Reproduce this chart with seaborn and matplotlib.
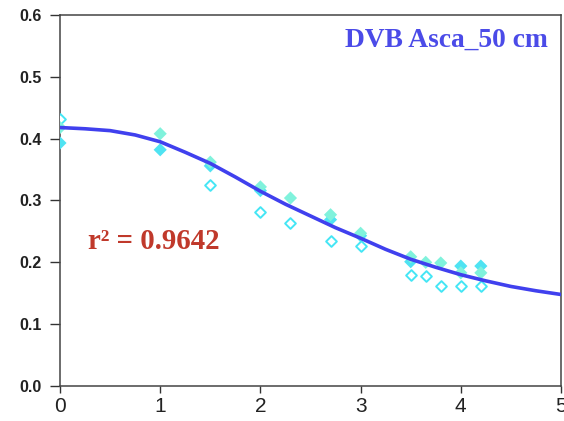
import matplotlib
matplotlib.use("Agg")
import matplotlib.pyplot as plt
import seaborn as sns
import numpy as np

# Data
x_light = [0, 1, 1.5, 2, 2.3, 2.7, 3, 3.5, 3.65, 3.8, 4, 4.2]
y_light = [0.418, 0.408, 0.362, 0.322, 0.304, 0.277, 0.247, 0.209, 0.200, 0.199, 0.183, 0.183]
x_cyan = [0, 1, 1.5, 2, 2.7, 3, 3.5, 4, 4.2]
y_cyan = [0.393, 0.382, 0.356, 0.316, 0.269, 0.243, 0.201, 0.194, 0.194]
x_hollow = [0, 1.5, 2, 2.3, 2.7, 3, 3.5, 3.65, 3.8, 4, 4.2]
y_hollow = [0.432, 0.325, 0.282, 0.264, 0.235, 0.227, 0.180, 0.178, 0.162, 0.162, 0.162]
x_fit = [0, 0.25, 0.5, 0.75, 1.0, 1.25, 1.5, 1.75, 2.0, 2.25, 2.5, 2.75, 3.0,
         3.25, 3.5, 3.75, 4.0, 4.25, 4.5, 4.75, 5.0]
y_fit = [0.418, 0.416, 0.413, 0.406, 0.395, 0.378, 0.360, 0.338, 0.315, 0.294,
         0.275, 0.256, 0.239, 0.221, 0.205, 0.192, 0.180, 0.170, 0.161, 0.154, 0.148]
x_ticks = [0, 1, 2, 3, 4, 5]
y_ticks = [0.0, 0.1, 0.2, 0.3, 0.4, 0.5, 0.6]
title_text = "DVB Asca_50 cm"
r2_text = "r² = 0.9642"

sns.set_theme(style="white")
plt.rcParams['font.family'] = ['Liberation Sans', 'DejaVu Sans']

fig = plt.figure(figsize=(5.64, 4.21), dpi=100)
ax = fig.add_axes([60/564, 1-386/421, 501/564, 371/421])

sns.scatterplot(x=x_hollow, y=y_hollow, marker='D', s=30, facecolor='white',
                edgecolor='#45E6F5', linewidth=1.4, ax=ax, zorder=3)
sns.scatterplot(x=x_cyan, y=y_cyan, marker='D', s=45, color='#4FE3F2',
                edgecolor='none', ax=ax, zorder=3)
sns.scatterplot(x=x_light, y=y_light, marker='D', s=45, color='#80F2DC',
                edgecolor='none', ax=ax, zorder=3)
sns.lineplot(x=x_fit, y=y_fit, color='#4040EE', linewidth=2.6, ax=ax, zorder=4)

ax.set_xlim(0, 5)
ax.set_ylim(0, 0.6)
ax.set_xticks(x_ticks)
ax.set_xticklabels([str(t) for t in x_ticks], fontsize=15)
ax.set_yticks(y_ticks)
ax.set_yticklabels([f"{t:.1f}" for t in y_ticks], fontsize=11.5, fontweight='bold')
ax.tick_params(axis='x', direction='out', length=5, width=1, color='#333333',
               bottom=True, pad=3, labelcolor='#222222')
ax.tick_params(axis='y', direction='out', length=7, width=1, color='#333333',
               left=True, pad=6, labelcolor='#222222')
for sp in ax.spines.values():
    sp.set_color('#444444')
    sp.set_linewidth(1.1)
ax.grid(False)

ax.text(0.974, 0.933, title_text, transform=ax.transAxes, ha='right', va='center',
        fontsize=19.8, fontweight='bold', color='#4B4BE8',
        family=['Liberation Serif', 'DejaVu Serif'])
ax.text(0.055, 0.39, r2_text, transform=ax.transAxes, ha='left', va='center',
        fontsize=20.8, fontweight='bold', color='#C0392B',
        family=['Liberation Serif', 'DejaVu Serif'])

fig.savefig("out.png", dpi=100)
